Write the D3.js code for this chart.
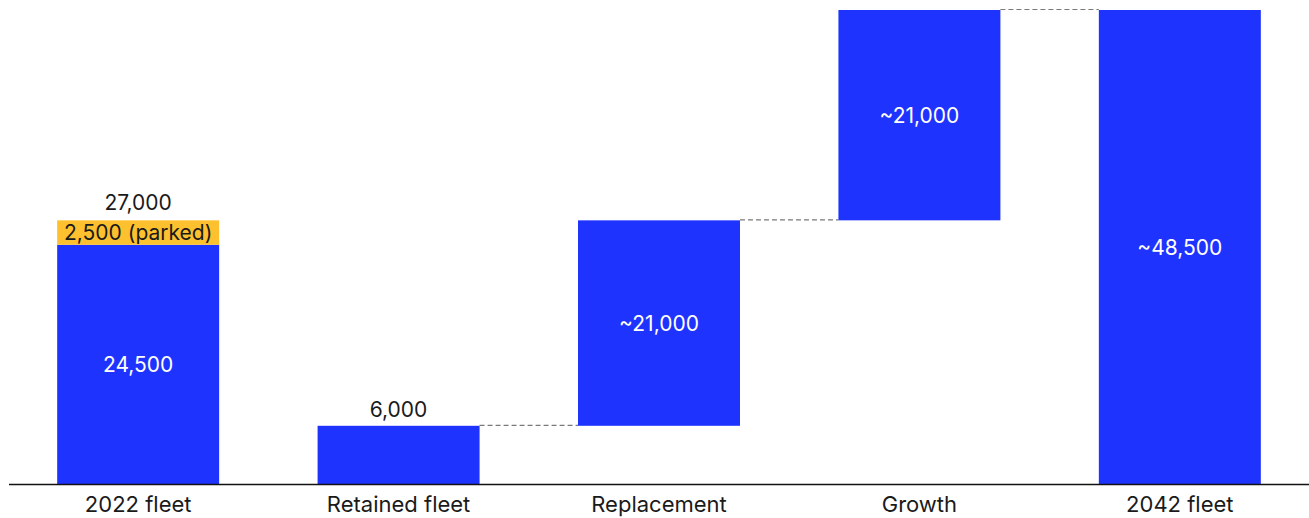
<!DOCTYPE html>
<html>
<head>
<meta charset="utf-8">
<script src="https://cdn.jsdelivr.net/npm/d3@7"></script>
<style>
  html, body { margin: 0; padding: 0; background: #fff; }
  svg { display: block; }
  text { font-family: Inter, "Noto Sans", sans-serif; }
</style>
</head>
<body>
<svg id="chart" width="1309" height="518"></svg>
<script>
// Fleet bridge, 2022 to 2042
const categories = ["2022 fleet", "Retained fleet", "Replacement", "Growth", "2042 fleet"];
const fleet2022Active = 24500;
const fleet2022Parked = 2500;
const retained = 6000;
const replacement = 21000;
const fleet2042 = 48500;
const valueLabels = ["24,500", "6,000", "~21,000", "~21,000", "~48,500"];
const parkedLabel = "2,500 (parked)";
const totalLabel2022 = "27,000";

const BLUE = "#1f33ff";
const YELLOW = "#fdc12f";

// Bar extents [start, end] for each category
const afterReplacement = retained + replacement;
const bars = [
  { cat: categories[0], y0: 0, y1: fleet2022Active, label: valueLabels[0] },
  { cat: categories[1], y0: 0, y1: retained, label: valueLabels[1], above: true },
  { cat: categories[2], y0: retained, y1: afterReplacement, label: valueLabels[2] },
  { cat: categories[3], y0: afterReplacement, y1: fleet2042, label: valueLabels[3] },
  { cat: categories[4], y0: 0, y1: fleet2042, label: valueLabels[4] }
];

const svg = d3.select("#chart");
const baseY = 484.5;

const x = d3.scaleBand()
  .domain(categories)
  .range([9, 1309])
  .paddingInner(0.378)
  .paddingOuter(0.185);

const y = d3.scaleLinear()
  .domain([0, fleet2042])
  .range([baseY, 10]);

// Connector lines between consecutive steps
const connectors = [
  [categories[1], categories[2], retained],
  [categories[2], categories[3], afterReplacement],
  [categories[3], categories[4], fleet2042]
];
svg.append("g").selectAll("line").data(connectors).join("line")
  .attr("x1", d => x(d[0]) + x.bandwidth())
  .attr("x2", d => x(d[1]))
  .attr("y1", d => y(d[2]) - 0.5)
  .attr("y2", d => y(d[2]) - 0.5)
  .attr("stroke", "#7a7a7a")
  .attr("stroke-width", 1.2)
  .attr("stroke-dasharray", "5,3");

// Blue bars
svg.append("g").selectAll("rect").data(bars).join("rect")
  .attr("x", d => x(d.cat))
  .attr("width", x.bandwidth())
  .attr("y", d => y(d.y1))
  .attr("height", d => y(d.y0) - y(d.y1))
  .attr("fill", BLUE);

// Parked aircraft on top of the 2022 fleet
const parkedTop = fleet2022Active + fleet2022Parked;
svg.append("rect")
  .attr("x", x(categories[0]))
  .attr("width", x.bandwidth())
  .attr("y", y(parkedTop))
  .attr("height", y(fleet2022Active) - y(parkedTop))
  .attr("fill", YELLOW);

svg.append("text")
  .attr("x", x(categories[0]) + x.bandwidth() / 2)
  .attr("y", (y(parkedTop) + y(fleet2022Active)) / 2)
  .attr("dy", "0.36em")
  .attr("text-anchor", "middle")
  .attr("font-size", 21)
  .attr("fill", "#1a1a1a")
  .text(parkedLabel);

svg.append("text")
  .attr("x", x(categories[0]) + x.bandwidth() / 2)
  .attr("y", y(parkedTop) - 10)
  .attr("text-anchor", "middle")
  .attr("font-size", 21)
  .attr("fill", "#1a1a1a")
  .text(totalLabel2022);

// Value labels
svg.append("g").selectAll("text").data(bars).join("text")
  .attr("x", d => x(d.cat) + x.bandwidth() / 2)
  .attr("y", d => d.above ? y(d.y1) - 9 : (y(d.y0) + y(d.y1)) / 2)
  .attr("dy", d => d.above ? 0 : "0.36em")
  .attr("text-anchor", "middle")
  .attr("font-size", 21)
  .attr("fill", d => d.above ? "#1a1a1a" : "#ffffff")
  .text(d => d.label);

// Baseline and category axis
const axis = d3.axisBottom(x).tickSize(0).tickPadding(12);
const gAxis = svg.append("g")
  .attr("transform", `translate(0,${baseY})`)
  .call(axis);
gAxis.select(".domain")
  .attr("d", `M9,0H1309`)
  .attr("stroke", "#111")
  .attr("stroke-width", 1.5);
gAxis.selectAll(".tick text")
  .attr("font-family", "Inter, 'Noto Sans', sans-serif")
  .attr("font-size", 22)
  .attr("fill", "#1a1a1a");
</script>
</body>
</html>
